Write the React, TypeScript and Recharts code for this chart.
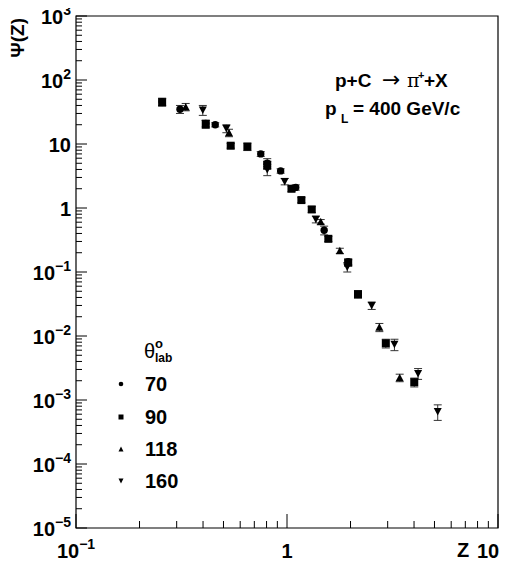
import React from 'react';
import { ScatterChart, Scatter, XAxis, YAxis, ErrorBar, ReferenceArea } from 'recharts';

// theta_lab = 70 deg (circles)
const z70 = [0.256, 0.311, 0.412, 0.457, 0.751, 0.806, 0.933, 1.10, 1.50, 1.95];
const psi70 = [46, 35, 21, 20, 7.0, 5.0, 3.8, 2.1, 0.45, 0.145];
const err70 = [6, 5, 2.5, 1.5, 0.6, 0.9, 0.3, 0.2, 0.07, 0.015];

// theta_lab = 90 deg (squares)
const z90 = [0.256, 0.412, 0.541, 0.649, 0.806, 1.05, 1.17, 1.31, 1.57, 1.95, 2.17, 2.94, 4.01];
const psi90 = [45, 20.5, 9.4, 9.1, 4.7, 2.0, 1.33, 0.95, 0.33, 0.14, 0.045, 0.0077, 0.0019];
const err90 = [6, 3, 0.8, 1.2, 0.7, 0.2, 0.12, 0.1, 0.03, 0.015, 0.006, 0.0012, 0.0003];

// theta_lab = 118 deg (triangles up)
const z118 = [0.331, 0.531, 1.445, 1.78, 2.74, 3.42];
const psi118 = [38, 15, 0.61, 0.215, 0.0137, 0.00223];
const err118 = [5, 2, 0.05, 0.02, 0.002, 0.0003];

// theta_lab = 160 deg (triangles down)
const z160 = [0.399, 0.516, 0.806, 0.975, 1.37, 1.93, 2.52, 3.23, 4.18, 5.18];
const psi160 = [34, 17.5, 4.0, 2.6, 0.665, 0.12, 0.030, 0.0074, 0.0026, 0.00066];
const err160 = [6, 2.5, 0.8, 0.3, 0.08, 0.02, 0.004, 0.0015, 0.0005, 0.00018];

const legendLabels = ['70', '90', '118', '160'];

const xDecades = [0.1, 1, 10];
const yDecades = [1e-5, 1e-4, 1e-3, 1e-2, 1e-1, 1, 10, 1e2, 1e3];
const minorMult = [2, 3, 4, 5, 6, 7, 8, 9];

const mkTicks = (decades: number[]) => {
  const t: number[] = [];
  decades.forEach((d, i) => {
    t.push(d);
    if (i < decades.length - 1) minorMult.forEach((m) => t.push(+(d * m).toPrecision(6)));
  });
  return t;
};
const xTicks = mkTicks(xDecades);
const yTicks = mkTicks(yDecades);

const mk = (z: number[], p: number[], e: number[]) => z.map((v, i) => ({ z: v, psi: p[i], err: e[i] }));
const d70 = mk(z70, psi70, err70);
const d90 = mk(z90, psi90, err90);
const d118 = mk(z118, psi118, err118);
const d160 = mk(z160, psi160, err160);

const FONT = '"Liberation Sans", Arial, Helvetica, sans-serif';

const isMajor = (v: number) => {
  const l = Math.log10(v);
  return Math.abs(l - Math.round(l)) < 1e-6;
};

const PowLabel = ({ x, y, e, anchor }: { x: number; y: number; e: number; anchor: 'end' | 'middle' }) => {
  if (e === 0)
    return (
      <text x={x} y={y} textAnchor={anchor} fontFamily={FONT} fontWeight="bold" fontSize={20} fill="#000">
        1
      </text>
    );
  if (e === 1)
    return (
      <text x={x} y={y} textAnchor={anchor} fontFamily={FONT} fontWeight="bold" fontSize={20} fill="#000">
        10
      </text>
    );
  const s = e < 0 ? '\u2212' + Math.abs(e) : String(e);
  return (
    <text x={x} y={y} textAnchor={anchor} fontFamily={FONT} fontWeight="bold" fontSize={20} fill="#000">
      10
      <tspan dy={-9} fontSize={14}>
        {s}
      </tspan>
    </text>
  );
};

const XTick = (props: any) => {
  const { x, y, payload } = props;
  const v = payload.value;
  const major = isMajor(v);
  const e = Math.round(Math.log10(v));
  return (
    <g>
      <line x1={x} x2={x} y1={y} y2={y - (major ? 14 : 7)} stroke="#000" strokeWidth={1} />
      {major && <PowLabel x={e === 1 ? x - 10 : x} y={y + 30} e={e} anchor="middle" />}
    </g>
  );
};

const YTick = (props: any) => {
  const { x, y, payload } = props;
  const v = payload.value;
  const major = isMajor(v);
  const e = Math.round(Math.log10(v));
  return (
    <g>
      <line x1={x} x2={x + (major ? 11 : 6)} y1={y} y2={y} stroke="#000" strokeWidth={1} />
      {major && <PowLabel x={x - 5} y={y + 8} e={e} anchor="end" />}
    </g>
  );
};

const CircleShape = (p: any) => <circle cx={p.cx} cy={p.cy} r={3.7} fill="#000" />;
const SquareShape = (p: any) => <rect x={p.cx - 4} y={p.cy - 4} width={8} height={8} fill="#000" />;
const UpShape = (p: any) => (
  <polygon points={`${p.cx - 4},${p.cy + 3.5} ${p.cx + 4},${p.cy + 3.5} ${p.cx},${p.cy - 4}`} fill="#000" />
);
const DownShape = (p: any) => (
  <polygon points={`${p.cx - 4},${p.cy - 3.5} ${p.cx + 4},${p.cy - 3.5} ${p.cx},${p.cy + 4}`} fill="#000" />
);

const W = 493;
const H = 562;
const OY = 8; // overlay vertical offset

export default function App() {
  const legendY = [383, 416, 448, 480].map((v) => v + OY);
  return (
    <div style={{ position: 'relative', width: W, height: H, marginTop: -8 }}>
      <ScatterChart width={W} height={H} margin={{ top: 16, right: 3, bottom: 0, left: 0 }}>
        <XAxis
          dataKey="z"
          type="number"
          scale="log"
          domain={[0.1, 10]}
          allowDataOverflow
          ticks={xTicks}
          interval={0}
          tick={<XTick />}
          tickSize={0}
          tickMargin={0}
          tickLine={false}
          axisLine={false}
          height={34}
        />
        <YAxis
          dataKey="psi"
          type="number"
          scale="log"
          domain={[1e-5, 1e3]}
          allowDataOverflow
          ticks={yTicks}
          interval={0}
          tick={<YTick />}
          tickSize={0}
          tickMargin={0}
          tickLine={false}
          axisLine={false}
          width={68}
        />
        <ReferenceArea x1={0.1} x2={10} y1={1e-5} y2={1e3} fill="none" stroke="#000" strokeWidth={1.2} />
        <Scatter data={d70} shape={CircleShape} isAnimationActive={false}>
          <ErrorBar dataKey="err" direction="y" width={4} stroke="#333" strokeWidth={1} />
        </Scatter>
        <Scatter data={d90} shape={SquareShape} isAnimationActive={false}>
          <ErrorBar dataKey="err" direction="y" width={4} stroke="#333" strokeWidth={1} />
        </Scatter>
        <Scatter data={d118} shape={UpShape} isAnimationActive={false}>
          <ErrorBar dataKey="err" direction="y" width={4} stroke="#333" strokeWidth={1} />
        </Scatter>
        <Scatter data={d160} shape={DownShape} isAnimationActive={false}>
          <ErrorBar dataKey="err" direction="y" width={4} stroke="#333" strokeWidth={1} />
        </Scatter>
      </ScatterChart>
      <svg
        width={W}
        height={H}
        style={{ position: 'absolute', left: 0, top: 0, pointerEvents: 'none', overflow: 'visible' }}
      >
        <text
          transform={`translate(16,${10 + OY}) rotate(-90)`}
          textAnchor="end"
          fontFamily={FONT}
          fontWeight="bold"
          fontSize={19}
          fill="#000"
        >
          Ψ(Z)
        </text>
        <text x={449} y={549 + OY} fontFamily={FONT} fontWeight="bold" fontSize={20} fill="#000">
          Z
        </text>
        <text y={79 + OY} fontFamily={FONT} fontSize={19} fill="#000">
          <tspan x={327} fontWeight="bold">p+C</tspan>
          <tspan x={374} fontFamily='"DejaVu Sans", sans-serif' fontSize={22}>→</tspan>
          <tspan x={399} fontFamily='"DejaVu Serif", serif' fontSize={19}>π</tspan>
          <tspan x={410} dy={-8} fontSize={11} fontWeight="bold">+</tspan>
          <tspan x={416} dy={8} fontWeight="bold">+X</tspan>
        </text>
        <text y={107 + OY} fontFamily={FONT} fontWeight="bold" fontSize={19} fill="#000">
          <tspan x={317}>p</tspan>
          <tspan x={333} dy={8} fontSize={12}>L</tspan>
          <tspan x={345} dy={-8}>= 400 GeV/c</tspan>
        </text>
        <text y={350 + OY} fontFamily={FONT} fill="#000">
          <tspan x={136} fontSize={20}>θ</tspan>
          <tspan x={147} dy={-10} fontSize={13} fontWeight="bold">o</tspan>
          <tspan x={147} dy={14} fontSize={12} fontWeight="bold">lab</tspan>
        </text>
        {legendLabels.map((l, i) => (
          <text key={l} x={137} y={legendY[i]} fontFamily={FONT} fontWeight="bold" fontSize={20} fill="#000">
            {l}
          </text>
        ))}
        <circle cx={113} cy={legendY[0] - 7} r={2.3} fill="#000" />
        <rect x={110.5} y={legendY[1] - 9.5} width={5} height={5} fill="#000" />
        <polygon points={`110.5,${legendY[2] - 4.5} 115.5,${legendY[2] - 4.5} 113,${legendY[2] - 9.5}`} fill="#000" />
        <polygon points={`110.5,${legendY[3] - 9.5} 115.5,${legendY[3] - 9.5} 113,${legendY[3] - 4.5}`} fill="#000" />
      </svg>
    </div>
  );
}
